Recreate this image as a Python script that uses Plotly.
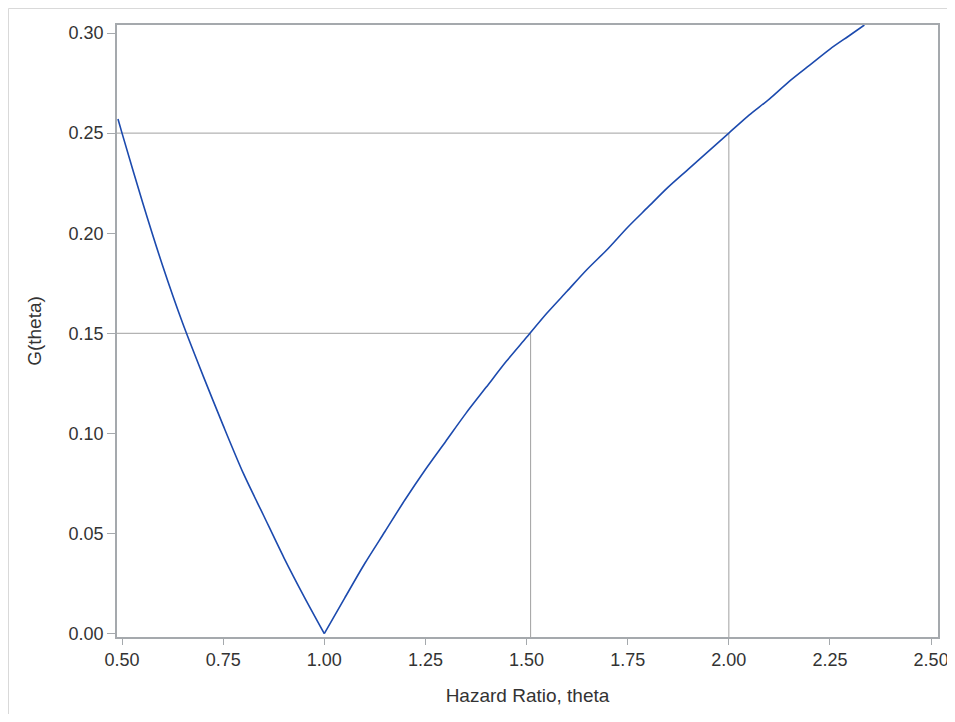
import plotly.graph_objects as go

# Curve G(theta): left branch (theta <= 1) and right branch (theta >= 1)
theta_left = [0.49, 0.50, 0.55, 0.60, 0.65, 0.70, 0.75, 0.80, 0.85, 0.90, 0.95, 1.00]
g_left = [0.257, 0.250, 0.216, 0.184, 0.155, 0.129, 0.104, 0.080, 0.059, 0.038, 0.0185, 0.000]
theta_right = [1.00, 1.05, 1.10, 1.15, 1.20, 1.25, 1.30, 1.35, 1.40, 1.45, 1.50, 1.55, 1.60,
               1.65, 1.70, 1.75, 1.80, 1.85, 1.90, 1.95, 2.00, 2.05, 2.10, 2.15, 2.20,
               2.25, 2.30, 2.335]
g_right = [0.000, 0.0176, 0.035, 0.051, 0.067, 0.082, 0.096, 0.110, 0.123, 0.136, 0.148, 0.160, 0.171,
           0.182, 0.192, 0.203, 0.213, 0.223, 0.232, 0.241, 0.250, 0.259, 0.267, 0.276, 0.284,
           0.292, 0.299, 0.304]

# Reference drop lines
ref_theta = [1.51, 2.00]
ref_g = [0.15, 0.25]

x_ticks = [0.50, 0.75, 1.00, 1.25, 1.50, 1.75, 2.00, 2.25, 2.50]
x_ticklabels = ["0.50", "0.75", "1.00", "1.25", "1.50", "1.75", "2.00", "2.25", "2.50"]
y_ticks = [0.00, 0.05, 0.10, 0.15, 0.20, 0.25, 0.30]
y_ticklabels = ["0.00", "0.05", "0.10", "0.15", "0.20", "0.25", "0.30"]

x_range = [0.4876, 2.517]
y_range = [-0.0017, 0.304]

axis_col = "#a5a9ad"
ref_col = "#a0a0a0"
font_col = "#333333"
curve_col = "#1c4aae"

fig = go.Figure()

shapes = []
for t, gv in zip(ref_theta, ref_g):
    shapes.append(dict(type="line", xref="x", yref="y", x0=x_range[0], x1=t, y0=gv, y1=gv,
                       line=dict(color=ref_col, width=1), layer="below"))
    shapes.append(dict(type="line", xref="x", yref="y", x0=t, x1=t, y0=y_range[0], y1=gv,
                       line=dict(color=ref_col, width=1), layer="below"))

# outer border of the graph
shapes.append(dict(type="line", xref="paper", yref="paper", x0=-0.1322, x1=1.03, y0=1.027, y1=1.027,
                   line=dict(color="#d8d8d8", width=1)))
shapes.append(dict(type="line", xref="paper", yref="paper", x0=-0.1322, x1=-0.1322, y0=1.027, y1=-0.2,
                   line=dict(color="#d8d8d8", width=1)))

for xs, ys in [(theta_left, g_left), (theta_right, g_right)]:
    fig.add_trace(go.Scatter(x=xs, y=ys, mode="lines",
                             line=dict(color=curve_col, width=1.6, shape="spline", smoothing=0.8),
                             showlegend=False))

fig.update_layout(
    width=947, height=706,
    margin=dict(l=109, r=17, t=17, b=77),
    paper_bgcolor="white", plot_bgcolor="white",
    font=dict(family="Liberation Sans, Arial, sans-serif", size=18, color=font_col),
    shapes=shapes,
    showlegend=False,
)
fig.update_xaxes(range=x_range, tickvals=x_ticks, ticktext=x_ticklabels, automargin=False,
                 showgrid=False, zeroline=False, showline=True, mirror=True,
                 linecolor=axis_col, linewidth=1.5, ticks="outside", ticklen=6,
                 tickcolor=axis_col, tickfont=dict(size=18, color=font_col),
                 title=dict(text="Hazard Ratio, theta", font=dict(size=19, color=font_col), standoff=19))
fig.update_yaxes(range=y_range, tickvals=y_ticks, ticktext=y_ticklabels, automargin=False,
                 showgrid=False, zeroline=False, showline=True, mirror=True,
                 linecolor=axis_col, linewidth=1.5, ticks="outside", ticklen=8,
                 tickcolor=axis_col, tickfont=dict(size=18, color=font_col),
                 title=dict(text="G(theta)", font=dict(size=19, color=font_col), standoff=22))

fig.write_html("out.html")
